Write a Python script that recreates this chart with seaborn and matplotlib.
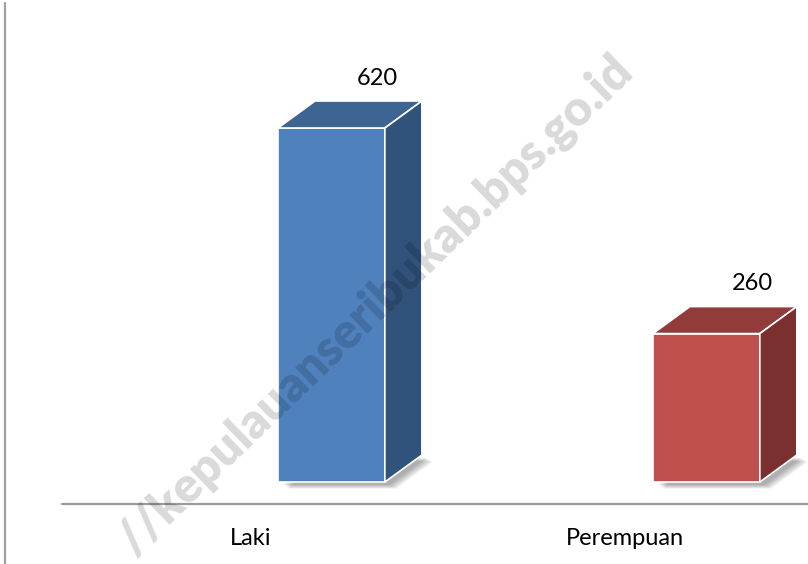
import matplotlib
matplotlib.use("Agg")
import matplotlib.pyplot as plt
import matplotlib.transforms as mtransforms
from matplotlib.patches import Polygon
from matplotlib.lines import Line2D
import seaborn as sns
import pandas as pd

# data
categories = ["Laki", "Perempuan"]
values = [620, 260]
front_colors = ["#4F81BD", "#C0504D"]
top_colors = ["#3D6591", "#913C3A"]
side_colors = ["#31527B", "#7A302E"]
watermark = "//kepulauanseribukab.bps.go.id"

df = pd.DataFrame({"Jenis Kelamin": categories, "Jumlah": values})

sns.set_style("white")
plt.rcParams["font.family"] = ["Lato", "DejaVu Sans"]

fig = plt.figure(figsize=(8.08, 5.64), dpi=100)
ax = fig.add_axes([0, 0, 1, 1])
sns.barplot(data=df, x="Jenis Kelamin", y="Jumlah", hue="Jenis Kelamin",
            palette=front_colors, width=0.285, saturation=1, legend=False,
            edgecolor="white", linewidth=1.2, ax=ax, zorder=3)
ax.set_xlim(-0.884, 1.271)
ax.set_ylim(-143.6, 844.2)
ax.axis("off")

# depth of the 3d look, in pixels -> data units
fig.canvas.draw()
inv = ax.transData.inverted()
o = inv.transform((0, 0))
d = inv.transform((37, 27))
dx, dy = d[0] - o[0], d[1] - o[1]
s = inv.transform((5, -3))
sx, sy = s[0] - o[0], s[1] - o[1]

bars = sorted(ax.patches, key=lambda p: p.get_x())
for i, p in enumerate(bars):
    x0, w, h = p.get_x(), p.get_width(), p.get_height()
    x1 = x0 + w
    # soft shadow on the floor
    for k in range(5):
        f = 1 + k * 0.3
        shadow = [(x0 + sx * f, sy * f), (x1 + sx * f, sy * f),
                  (x1 + dx + sx * f, dy + sy * f), (x0 + dx, dy)]
        ax.add_patch(Polygon(shadow, closed=True, facecolor="black",
                             alpha=0.07, lw=0, zorder=1))
    top = [(x0, h), (x1, h), (x1 + dx, h + dy), (x0 + dx, h + dy)]
    side = [(x1, 0), (x1 + dx, dy), (x1 + dx, h + dy), (x1, h)]
    ax.add_patch(Polygon(top, closed=True, facecolor=top_colors[i],
                         edgecolor="white", lw=1.2, zorder=3))
    ax.add_patch(Polygon(side, closed=True, facecolor=side_colors[i],
                         edgecolor="white", lw=1.2, zorder=3))

    lab = mtransforms.offset_copy(ax.transData, fig=fig, x=46, y=50, units="dots")
    ax.text(x0 + w / 2, h, str(values[i]), transform=lab, ha="center",
            va="center", fontsize=17, color="black", zorder=5)
    cat = mtransforms.offset_copy(ax.transData, fig=fig, x=-81, y=-56, units="dots")
    ax.text(x0 + w / 2, 0, categories[i], transform=cat, ha="center",
            va="center", fontsize=17, color="black", zorder=5)

# axis line and left border
fig.add_artist(Line2D([62 / 808, 1], [1 - 504 / 564] * 2, transform=fig.transFigure,
                      color="#9a9a9a", lw=1.6))
fig.add_artist(Line2D([5 / 808] * 2, [0, 1 - 3 / 564], transform=fig.transFigure,
                      color="#a0a0a0", lw=1.6))

fig.text(0.464, 0.459, watermark, rotation=44, rotation_mode="anchor",
         ha="center", va="center", fontsize=35, fontweight="heavy",
         color="black", alpha=0.15, zorder=10)

fig.savefig("out.png", dpi=100)
